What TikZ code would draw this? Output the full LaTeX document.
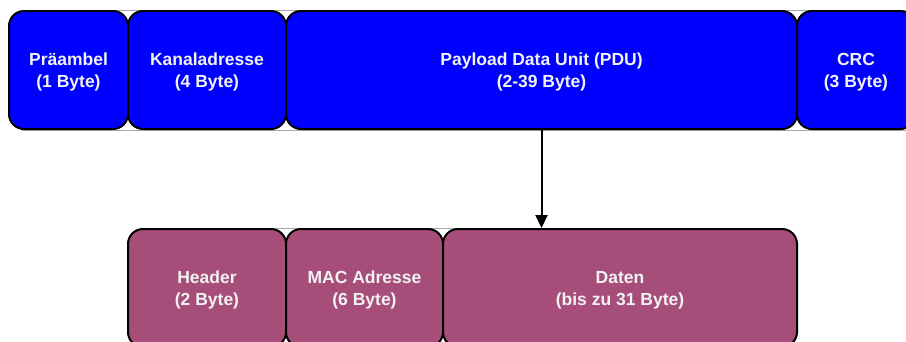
\documentclass[tikz,border=0pt]{standalone}
\usepackage{fontspec}
\setmainfont{Liberation Sans}
\usetikzlibrary{arrows.meta}
\definecolor{fieldblue}{HTML}{0000FF}
\definecolor{fieldberry}{HTML}{A64D79}
\definecolor{fieldtext}{HTML}{F2F2F2}
\definecolor{rowline}{HTML}{A8A8A8}
% two centred lines: field name and its size, set slightly low in the box
\newcommand\twolines[2]{\raisebox{-2pt}[\height][\depth]{\begin{tabular}{@{}c@{}}#1\\#2\end{tabular}}}
\tikzset{
  field/.style={draw=black, line width=2pt, rounded corners=15pt, inner sep=0pt,
    minimum height=118pt, text=fieldtext,
    font=\fontsize{17.5}{22}\selectfont\bfseries},
  outer/.style={field, fill=fieldblue},
  inner/.style={field, fill=fieldberry},
  rowedge/.style={draw=rowline, line width=1pt},
  link/.style={draw=black, line width=2pt, -{Triangle[length=13pt,width=12pt]}}
}
\begin{document}
\begin{tikzpicture}[x=1pt,y=-1pt]
\useasboundingbox (0,0) rectangle (906,341);
\clip (0,0) rectangle (906,341);
\fill[white] (0,0) rectangle (906,341);
% thin edges along each row
\draw[rowedge] (22,10) -- (915,10);
\draw[rowedge] (22,130.5) -- (915,130.5);
\draw[rowedge] (142,228) -- (783,228);
% link-layer packet
\node[outer, minimum width=119pt] (pre) at (68.5,70) {\twolines{Präambel}{(1 Byte)}};
\node[outer, minimum width=158pt] (kan) at (207,70) {\twolines{Kanaladresse}{(4 Byte)}};
\node[outer, minimum width=511pt] (pdu) at (541.5,70) {\twolines{Payload Data Unit (PDU)}{(2-39 Byte)}};
\node[outer, minimum width=118pt] (crc) at (856,70) {\twolines{CRC}{(3 Byte)}};
% PDU contents
\node[inner, minimum width=158pt] (hdr) at (207,288) {\twolines{Header}{(2 Byte)}};
\node[inner, minimum width=157pt] (mac) at (364.5,288) {\twolines{MAC Adresse}{(6 Byte)}};
\node[inner, minimum width=354pt] (dat) at (620,288) {\twolines{Daten}{(bis zu 31 Byte)}};
\draw[link] (pdu.south) -- (pdu.south |- dat.north);
\end{tikzpicture}
\end{document}
